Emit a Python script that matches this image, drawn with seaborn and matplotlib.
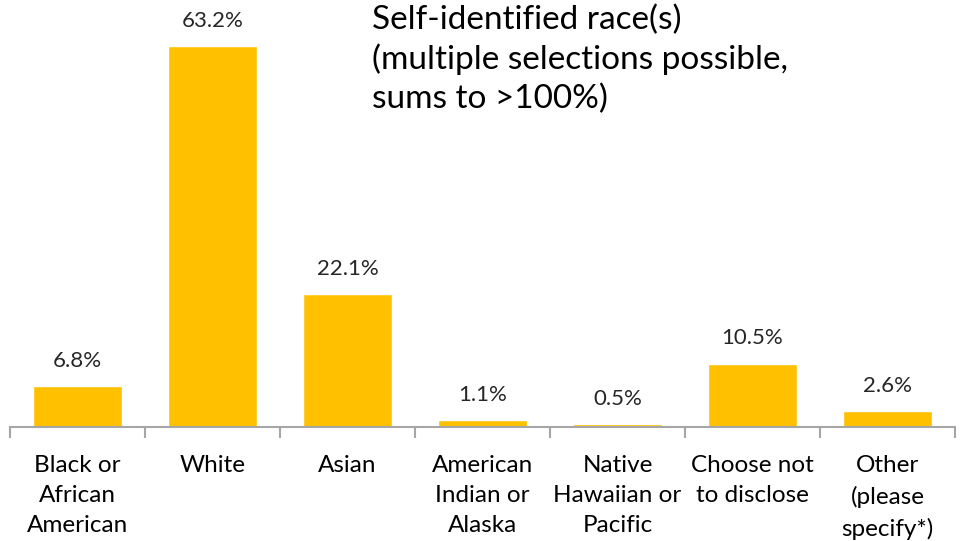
import numpy as np
import pandas as pd
import matplotlib
matplotlib.use("Agg")
import matplotlib.pyplot as plt
import seaborn as sns

categories = ["Black or\nAfrican\nAmerican", "White", "Asian", "American\nIndian or\nAlaska",
              "Native\nHawaiian or\nPacific", "Choose not\nto disclose", "Other\n(please\nspecify*)"]
percents = [6.8, 63.2, 22.1, 1.1, 0.5, 10.5, 2.6]
title = "Self-identified race(s)\n(multiple selections possible,\nsums to >100%)"

sns.set_style("white")
plt.rcParams['font.family'] = ['Lato', 'DejaVu Sans']

df = pd.DataFrame({"race": categories, "pct": percents})

fig = plt.figure(figsize=(9.63, 5.41), dpi=100)
ax = fig.add_axes([0.0104, 0.2107, 0.9813, 0.78])

sns.barplot(data=df, x="race", y="pct", color="#FFC000", saturation=1, width=0.66, ax=ax)

for i, v in enumerate(percents):
    ax.annotate(f"{v:.1f}%", (i, v), xytext=(0, 11), textcoords="offset points",
                ha="center", va="bottom", fontsize=16, color="#262626")

ax.set_ylim(0, 70)
ax.set_xlim(-0.5, len(categories) - 0.5)
ax.set_xlabel("")
ax.set_ylabel("")
ax.set_yticks([])
for s in ["top", "right", "left"]:
    ax.spines[s].set_visible(False)
ax.spines["bottom"].set_color("#A6A6A6")
ax.spines["bottom"].set_linewidth(1.5)

ax.set_xticks(np.arange(-0.5, len(categories)), minor=True)
ax.tick_params(axis="x", which="minor", bottom=True, length=8, width=1.5, color="#A6A6A6", direction="out")
ax.tick_params(axis="x", which="major", bottom=True, length=0, pad=20, labelsize=17.5, labelcolor="black")
for lab in ax.get_xticklabels():
    lab.set_linespacing(1.55)

fig.text(0.386, 0.992, title, ha="left", va="top", fontsize=24, linespacing=1.35, color="black")

fig.savefig("out.png", dpi=100)
